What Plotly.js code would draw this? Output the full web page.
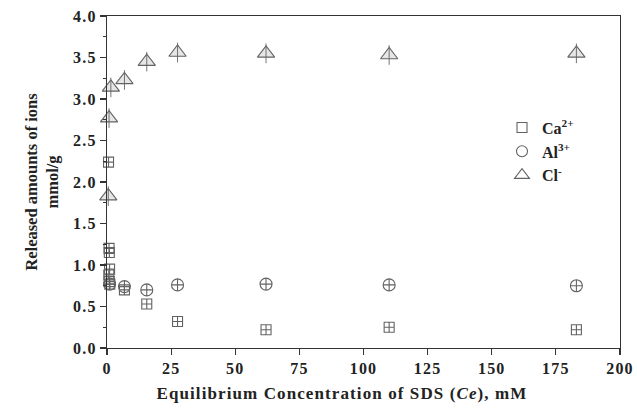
<!DOCTYPE html>
<html>
<head>
<meta charset="utf-8">
<script src="https://cdn.plot.ly/plotly-3.0.1.min.js"></script>
<style>
  html, body { margin: 0; padding: 0; background: #fff; }
  #chart { width: 637px; height: 413px; }
  /* wide-set typography for axis labelling */
  #chart .xtick text, #chart .ytick text { letter-spacing: 1.2px; }
  #chart .annotation-text { letter-spacing: 1.1px; }
</style>
</head>
<body>
<div id="chart"></div>
<script>
// Equilibrium SDS concentration (mM) and released ion amounts (mmol/g)
const caX = [0.6, 0.8, 0.9, 1.0, 0.7, 0.9, 1.1, 6.8, 15.5, 27.5, 62, 110, 183];
const caY = [2.24, 1.20, 1.15, 0.95, 0.88, 0.80, 0.77, 0.70, 0.53, 0.32, 0.22, 0.25, 0.22];

const alX = [1.0, 6.8, 15.5, 27.5, 62, 110, 183];
const alY = [0.77, 0.74, 0.70, 0.76, 0.77, 0.76, 0.75];

const clX = [0.5, 0.8, 1.5, 6.8, 15.5, 27.5, 62, 110, 183];
const clY = [1.83, 2.77, 3.14, 3.23, 3.45, 3.56, 3.55, 3.53, 3.55];

const seriesNames = ['Ca<sup>2+</sup>', 'Al<sup>3+</sup>', 'Cl<sup>-</sup>'];
const xTitle = 'Equilibrium Concentration of SDS (<i>Ce</i>), mM';
const yTitle = 'Released amounts of ions<br>mmol/g';

const edge = '#636363';
const serif = 'Liberation Serif, Times New Roman, serif';

const traces = [
  {
    x: caX, y: caY, type: 'scatter', mode: 'markers', showlegend: false, cliponaxis: false,
    marker: { symbol: 'square-cross-open', size: 10, color: edge, line: { width: 1.1, color: edge } }
  },
  {
    x: alX, y: alY, type: 'scatter', mode: 'markers', showlegend: false, cliponaxis: false,
    marker: { symbol: 'circle-cross-open', size: 12, color: edge, line: { width: 1.1, color: edge } }
  },
  {
    x: clX, y: clY, type: 'scatter', mode: 'markers', showlegend: false, cliponaxis: false,
    marker: { symbol: 'triangle-up', size: 15, color: '#e6e6e6', line: { width: 1.1, color: edge } }
  },
  {
    x: clX, y: clY, type: 'scatter', mode: 'markers', showlegend: false, cliponaxis: false,
    marker: { symbol: 'line-ns', size: 14, color: edge, line: { width: 0.9, color: edge } }
  },
  // legend entries
  {
    x: [null], y: [null], type: 'scatter', mode: 'markers', name: seriesNames[0],
    marker: { symbol: 'square-open', size: 10, color: edge, line: { width: 1.1 } }
  },
  {
    x: [null], y: [null], type: 'scatter', mode: 'markers', name: seriesNames[1],
    marker: { symbol: 'circle-open', size: 11, color: edge, line: { width: 1.1 } }
  },
  {
    x: [null], y: [null], type: 'scatter', mode: 'markers', name: seriesNames[2],
    marker: { symbol: 'triangle-up-open', size: 13, color: edge, line: { width: 1.1 } }
  }
];

const tickFont = { family: serif, size: 16, color: '#222', weight: 'bold' };

const layout = {
  width: 637,
  height: 413,
  margin: { l: 107, r: 17, t: 16, b: 65 },
  paper_bgcolor: '#fff',
  plot_bgcolor: '#fff',
  font: { family: serif, size: 14, color: '#222' },
  showlegend: true,
  legend: {
    x: 0.77, y: 0.715, xanchor: 'left', yanchor: 'top',
    bgcolor: 'rgba(0,0,0,0)',
    font: { family: serif, size: 16, color: '#222', weight: 'bold' },
    tracegroupgap: 0
  },
  annotations: [
    {
      text: xTitle, xref: 'paper', yref: 'paper', x: 0.458, y: -0.136,
      xanchor: 'center', yanchor: 'middle', showarrow: false,
      font: { family: serif, size: 17, color: '#222', weight: 'bold' }
    }
  ],
  xaxis: {
    range: [0, 200],
    tickvals: [0, 25, 50, 75, 100, 125, 150, 175, 200],
    ticks: 'outside', ticklen: 6, tickwidth: 1.2, tickcolor: '#333',
    showline: true, linecolor: '#333', linewidth: 1.2, mirror: true,
    showgrid: false, zeroline: false,
    tickfont: tickFont
  },
  yaxis: {
    range: [0, 4.0],
    tickvals: [0, 0.5, 1, 1.5, 2, 2.5, 3, 3.5, 4],
    ticktext: ['0.0', '0.5', '1.0', '1.5', '2.0', '2.5', '3.0', '3.5', '4.0'],
    ticks: 'outside', ticklen: 6, tickwidth: 1.2, tickcolor: '#333',
    minor: { dtick: 0.25, ticks: 'outside', ticklen: 3, tickwidth: 1, tickcolor: '#333' },
    showline: true, linecolor: '#333', linewidth: 1.2, mirror: true,
    showgrid: false, zeroline: false,
    tickfont: tickFont,
    title: {
      text: yTitle,
      font: { family: serif, size: 16.5, color: '#222', weight: 'bold' },
      standoff: 13
    }
  }
};

Plotly.newPlot('chart', traces, layout, { displayModeBar: false, staticPlot: true });
</script>
</body>
</html>
